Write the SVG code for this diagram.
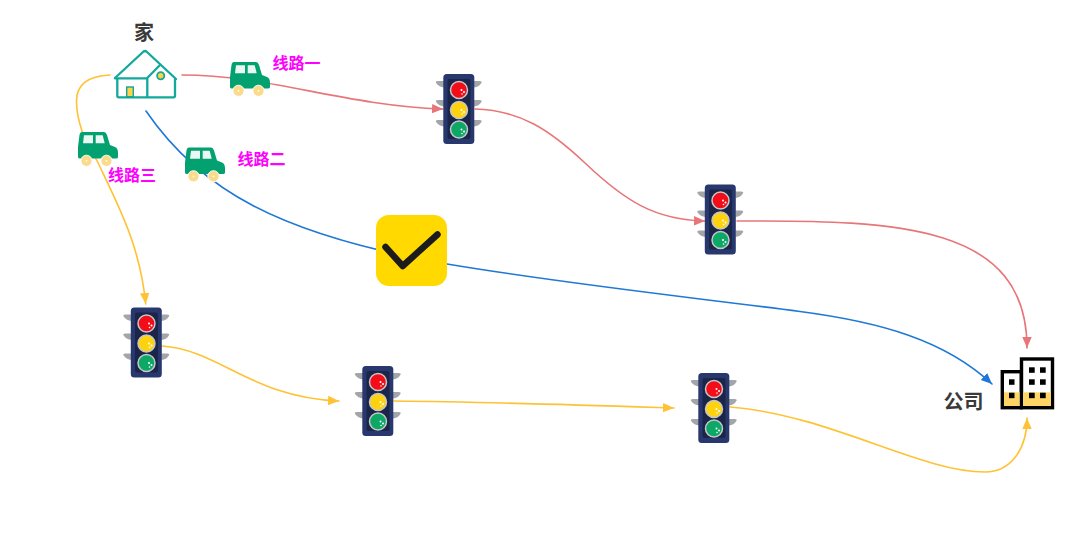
<svg xmlns="http://www.w3.org/2000/svg" width="1080" height="559" viewBox="0 0 1080 559">
<style>
.cn{fill:none;stroke-width:1.6;stroke-linecap:round}
.r{stroke:#E87578;marker-end:url(#ar)}
.b{stroke:#1F78D6;marker-end:url(#ab)}
.y{stroke:#FFC235;marker-end:url(#ay)}
.lab{font-family:"Noto Sans CJK SC","Liberation Sans",sans-serif;font-weight:700}
.rt{font-size:16px;fill:#FF00FF}
.nm{font-size:20px;fill:#3A3A3A}
.h{fill:none;stroke:#12A89A;stroke-width:2.3;stroke-linejoin:round;stroke-linecap:round}
.bd{fill:#fff;stroke:#000;stroke-width:3.400}
.w{fill:#000}
</style>
<defs>
<marker id="ar" markerUnits="userSpaceOnUse" markerWidth="13" markerHeight="11" refX="11" refY="5.500" orient="auto"><path d="M0 .8L11 5.500L0 10.200Z" fill="#E87578"/></marker>
<marker id="ab" markerUnits="userSpaceOnUse" markerWidth="13" markerHeight="11" refX="11" refY="5.500" orient="auto"><path d="M0 .8L11 5.500L0 10.200Z" fill="#1F78D6"/></marker>
<marker id="ay" markerUnits="userSpaceOnUse" markerWidth="13" markerHeight="11" refX="11" refY="5.500" orient="auto"><path d="M0 .8L11 5.500L0 10.200Z" fill="#FFC235"/></marker>
<symbol id="light" overflow="visible">
<g fill="#A3A5A8">
<path id="pl" d="M-15 -28H-21Q-24.500 -28 -22.500 -25.500Q-20 -22 -15 -21.500Z"/><path d="M15 -28H20.500Q24 -28 22 -25.500Q20 -22 15 -21.500Z"/>
<path d="M-15 -9H-21Q-24.500 -9 -22.500 -6.500Q-20 -3 -15 -2.500Z"/><path d="M15 -9H20.500Q24 -9 22 -6.500Q20 -3 15 -2.500Z"/>
<path d="M-15 11H-21Q-24.500 11 -22.500 13.500Q-20 17 -15 17.500Z"/><path d="M15 11H20.500Q24 11 22 13.500Q20 17 15 17.500Z"/>
</g>
<rect x="-15.700" y="-35" width="31" height="70" rx="3.500" fill="#28386F"/>
<rect x="-11.500" y="-30" width="23" height="60" rx="2" fill="#1B2547"/>
<circle cx="0" cy="-19" r="8.500" fill="#F20D18" stroke="#C5C7CC" stroke-width="1.500"/>
<circle cx="0" cy="1" r="8.500" fill="#FFD20F" stroke="#C5C7CC" stroke-width="1.500"/>
<circle cx="0" cy="20.500" r="8.500" fill="#0DA866" stroke="#C5C7CC" stroke-width="1.500"/>
<g fill="#fff"><circle cx="2.500" cy="-19" r="1"/><circle cx="5" cy="-17" r="1"/><circle cx="3" cy="-15" r=".8"/><circle cx="2.500" cy="1" r="1"/><circle cx="5" cy="3" r="1"/><circle cx="3" cy="5" r=".8"/><circle cx="2.500" cy="20.500" r="1"/><circle cx="5" cy="22.500" r="1"/><circle cx="3" cy="24.500" r=".8"/></g>
</symbol>
<symbol id="car" overflow="visible">
<path d="M4 0H26Q28 0 29 3L32 13L37 15Q40 16 40 21V25Q40 26.500 38 26.500H2Q0 26.500 0 25V15L1.500 3Q2 0 4 0Z" fill="#03A170"/>
<path d="M6 3.300H15V11.300H5ZM17.700 3.300H24.700L26.700 11.300H17.700Z" fill="#EAF7F2"/>
<g fill="#FADB8C" stroke="#fff" stroke-width="1"><circle cx="8.500" cy="28.800" r="5.600"/><circle cx="28.500" cy="28.800" r="5.600"/></g>
<g fill="#fff"><circle cx="8.500" cy="28.800" r=".9"/><circle cx="28.500" cy="28.800" r=".9"/></g>
</symbol>
</defs>
<rect width="1080" height="559" fill="#fff"/>
<g id="connectors">
<path class="cn r" d="M182 75C270 75 340 105 443 109"/>
<path class="cn r" d="M475 109C520 110 550 130 585 163C625 201 655 220 705 221"/>
<path class="cn r" d="M737 221C900 220 1027 225 1027 348"/>
<path class="cn b" d="M146 111C200 190 280 235 447 264C560 283 680 296 800 311.500C880 322 945 340 992 384"/>
<path class="cn y" d="M110 75C88 76 76 84 76.500 102C77 125 87 145 96.700 160C118 205 140 245 145.700 304"/>
<path class="cn y" d="M162 346C220 350 250 397 339 401"/>
<path class="cn y" d="M394 401C490 402 580 405 674 408"/>
<path class="cn y" d="M730 407C830 415 920 472 985 472C1010 472 1027 450 1027 418"/>
</g>
<g id="home">
<path class="h" d="M115 78L143 52Q145 50 147 52L176 79"/>
<path class="h" d="M117.300 78.500V96Q117.300 97.300 119 97.300H173.500Q175 97.300 175 96V79M115 78.300H147L160 65M147.300 78.300V97.300"/>
<rect x="126.700" y="87" width="6.600" height="9.700" fill="#FFD24A" stroke="#12A89A" stroke-width="1.400"/>
<circle cx="160.700" cy="75.700" r="3.600" fill="#FFD24A" stroke="#12A89A" stroke-width="1.800"/>
<text class="lab nm" x="144" y="39.500" text-anchor="middle">家</text>
</g>
<g id="car1"><use href="#car" x="230" y="62"/><text class="lab rt" x="272.500" y="69">线路一</text></g>
<g id="car2"><use href="#car" x="185" y="147.500"/><text class="lab rt" x="237.500" y="165">线路二</text></g>
<g id="car3"><use href="#car" x="78" y="132"/><text class="lab rt" x="108" y="181">线路三</text></g>
<g id="light1"><use href="#light" x="459" y="109"/></g>
<g id="light2"><use href="#light" x="720.500" y="219.500"/></g>
<g id="light3"><use href="#light" x="146.500" y="342.500"/></g>
<g id="light4"><use href="#light" x="378" y="401"/></g>
<g id="light5"><use href="#light" x="714" y="408"/></g>
<g id="check">
<rect x="376" y="215" width="71" height="71" rx="13" fill="#FFD900"/>
<path d="M385.500 247L402.700 266L437.500 234.500" fill="none" stroke="#1C1C1C" stroke-width="6.500" stroke-linecap="round" stroke-linejoin="round"/>
</g>
<g id="office">
<rect class="bd" x="1002.300" y="371.700" width="19" height="36"/>
<rect class="bd" x="1021.500" y="359" width="31" height="48.700"/>
<rect x="1004" y="392.300" width="15.600" height="13.700" fill="#FFD666"/>
<rect x="1023.200" y="392.300" width="27.600" height="13.700" fill="#FFD666"/>
<g class="w">
<rect x="1029" y="367.300" width="5.700" height="5.500"/><rect x="1040" y="367.300" width="5.700" height="5.500"/>
<rect x="1029" y="379.300" width="5.700" height="5.500"/><rect x="1040" y="379.300" width="5.700" height="5.500"/>
<rect x="1029" y="392.700" width="5.700" height="5.500"/><rect x="1040" y="392.700" width="5.700" height="5.500"/>
<rect x="1009" y="379.300" width="5.500" height="5.500"/><rect x="1009" y="392.700" width="5.500" height="5.500"/>
</g>
<text class="lab nm" x="943.500" y="409">公司</text>
</g>
</svg>
